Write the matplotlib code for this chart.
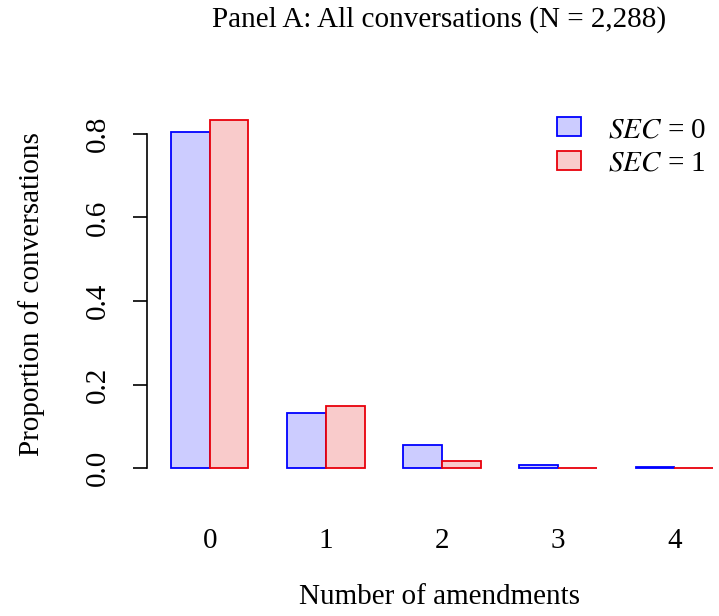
import numpy as np
import matplotlib
matplotlib.use("Agg")
from matplotlib import pyplot as plt
from matplotlib.patches import Patch

plt.rcParams['font.family'] = ['Liberation Serif', 'DejaVu Serif']
plt.rcParams['mathtext.fontset'] = 'stix'

amendments = ['0', '1', '2', '3', '4']
sec0 = [0.805, 0.132, 0.055, 0.007, 0.003]
sec1 = [0.834, 0.149, 0.017, 0.001, 0.0005]
y_ticks = [0.0, 0.2, 0.4, 0.6, 0.8]

fill0, edge0 = '#CCCCFF', '#0000FF'
fill1, edge1 = '#F9CBCB', '#E8000B'
fs = 21

W, H = 719, 616
fig = plt.figure(figsize=(W / 100, H / 100), dpi=100)
ax = fig.add_axes([147 / W, (H - 482) / H, (W - 147) / W, (482 - 106) / H])

# bars side by side, one unit wide, one unit gap between groups
n = len(amendments)
left0 = 1 + 3 * np.arange(n)
ax.bar(left0, sec0, width=1, align='edge', color=fill0, edgecolor=edge0, linewidth=1.3)
ax.bar(left0 + 1, sec1, width=1, align='edge', color=fill1, edgecolor=edge1, linewidth=1.3)

ax.set_xlim(1 - 24 / 38.71, 1 + (W - 171) / 38.71)
ax.set_ylim(-0.0335, 0.867)

for side in ['top', 'right', 'bottom']:
    ax.spines[side].set_visible(False)
ax.spines['left'].set_bounds(0, 0.8)
ax.spines['left'].set_linewidth(1.2)

ax.set_yticks(y_ticks)
ax.set_yticklabels(['%.1f' % t for t in y_ticks], rotation=90, va='center', fontsize=fs)
ax.tick_params(axis='y', length=10, width=1.2, pad=16)

ax.set_xticks(left0 + 1)
ax.set_xticklabels(amendments, fontsize=fs)
ax.tick_params(axis='x', length=0, pad=33)

ax.set_ylabel('Proportion of conversations', fontsize=fs, labelpad=29)
fig.text(440 / W, 1 - 597 / H, 'Number of amendments', ha='center', va='center', fontsize=fs)
fig.text(439 / W, 1 - 20 / H, 'Panel A: All conversations (N = 2,288)', ha='center', va='center', fontsize=fs)

handles = [Patch(facecolor=fill0, edgecolor=edge0, linewidth=1.3),
           Patch(facecolor=fill1, edgecolor=edge1, linewidth=1.3)]
fig.legend(handles, [r'$SEC$ = 0', r'$SEC$ = 1'], loc='upper right',
           bbox_to_anchor=(706 / W, 1 - 117 / H), frameon=False, fontsize=fs,
           borderpad=0, borderaxespad=0,
           handlelength=0.8, handleheight=0.62, handletextpad=0.93, labelspacing=0.27)

fig.savefig('out.png', dpi=100)
